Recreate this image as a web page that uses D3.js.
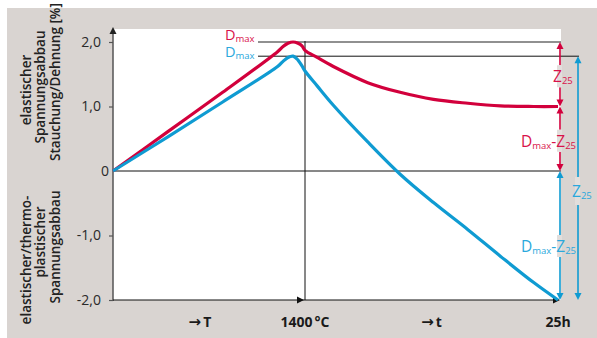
<!DOCTYPE html>
<html>
<head>
<meta charset="utf-8">
<script src="https://cdn.jsdelivr.net/npm/d3@7"></script>
<style>
	body { margin: 0; background: #fff; }
	svg { display: block; font-family: 'Open Sans', 'Noto Sans', sans-serif; }
</style>
</head>
<body>
<div id="content"></div>
<script>
// heating phase (temperature, °C) and hold phase (time, h)
const heatT = [0, 400, 800, 1200, 1240, 1276, 1313, 1349, 1378, 1400]
const redHeat = [0, 0.61, 1.22, 1.85, 1.93, 1.98, 2.0, 1.98, 1.94, 1.87]
const blueHeat = [0, 0.53, 1.07, 1.62, 1.70, 1.76, 1.78, 1.72, 1.63, 1.55]

const holdH = [0, 1.2, 2.8, 6.2, 9.4, 12.7, 16.1, 19.3, 22.6, 25]
const redHold = [1.87, 1.76, 1.62, 1.37, 1.22, 1.11, 1.05, 1.01, 1.0, 1.0]
const blueHold = [1.55, 1.32, 1.02, 0.45, -0.05, -0.49, -0.91, -1.32, -1.73, -2.0]

const yTicks = [-2, -1, 0, 1, 2]
const yTickLabels = ['-2,0', '-1,0', '0', '1,0', '2,0']

const xLabels = [
	{ phase: 'heat', at: 634, arrow: true, text: 'T' },
	{ phase: 'heat', at: 1400, arrow: false, text: '1400\u202f°C' },
	{ phase: 'hold', at: 12.5, arrow: true, text: 't' },
	{ phase: 'hold', at: 25, arrow: false, text: '25h' },
]

const titleUpper = ['elastischer', 'Spannungsabbau', 'Stauchung/Dehnung [%]']
const titleLower = ['elastischer/thermo-', 'plastischer', 'Spannungsabbau']

let RED = '#d2003c'
let BLUE = '#0f9bd2'
let RED_TXT = '#d8124a'
let BLUE_TXT = '#2aa8dc'
let PANEL = '#d9d4d1'

let W = 597, H = 338
let plot = { left: 113, right: 561, top: 29, bottom: 300 }

let xHeat = d3.scaleLinear().domain([0, 1400]).range([113, 305])
let xHold = d3.scaleLinear().domain([0, 25]).range([305, 558])
let y = d3.scaleLinear().domain([-2, 2]).range([300, 42])

let svg = d3.select('#content').append('svg')
	.attr('width', W)
	.attr('height', H)

svg.append('rect').attr('x', 7).attr('y', 8).attr('width', W - 7).attr('height', H - 8)
	.attr('fill', PANEL)
svg.append('rect')
	.attr('x', plot.left).attr('y', plot.top)
	.attr('width', plot.right - plot.left).attr('height', plot.bottom - plot.top)
	.attr('fill', '#fff')

function arrowHead(x, yy, dir, color, size = 7) {
	let s = size, h = size * 0.5
	let p
	if (dir === 'up') p = `M${x},${yy} L${x - h},${yy + s} L${x + h},${yy + s} Z`
	else if (dir === 'down') p = `M${x},${yy} L${x - h},${yy - s} L${x + h},${yy - s} Z`
	else p = `M${x},${yy} L${x - s},${yy - h} L${x - s},${yy + h} Z`
	svg.append('path').attr('d', p).attr('fill', color)
}

function series(heatVals, holdVals) {
	let pts = heatT.map((t, i) => ({ px: xHeat(t), v: heatVals[i] }))
	holdH.forEach((t, i) => { if (i > 0) pts.push({ px: xHold(t), v: holdVals[i] }) })
	return pts
}

let redPts = series(redHeat, redHold)
let bluePts = series(blueHeat, blueHold)
let redPeak = d3.max(redPts, (d) => d.v)
let bluePeak = d3.max(bluePts, (d) => d.v)
let redEnd = redHold[redHold.length - 1]
let blueEnd = blueHold[blueHold.length - 1]

// reference lines
svg.append('line')
	.attr('x1', 258).attr('x2', 561)
	.attr('y1', y(redPeak)).attr('y2', y(redPeak))
	.attr('stroke', '#6b6b6b').attr('stroke-width', 1.6)
svg.append('line')
	.attr('x1', 258).attr('x2', 579)
	.attr('y1', y(bluePeak)).attr('y2', y(bluePeak))
	.attr('stroke', '#111').attr('stroke-width', 1)
svg.append('line')
	.attr('x1', plot.left).attr('x2', 561)
	.attr('y1', y(0)).attr('y2', y(0))
	.attr('stroke', '#111').attr('stroke-width', 1)
svg.append('line')
	.attr('x1', xHeat(1400)).attr('x2', xHeat(1400))
	.attr('y1', y(redPeak) - 1).attr('y2', plot.bottom)
	.attr('stroke', '#111').attr('stroke-width', 1)

// y axis
let yAxis = d3.axisLeft(y)
	.tickValues(yTicks)
	.tickSize(4)
	.tickPadding(8)
	.tickFormat((d) => yTickLabels[yTicks.indexOf(d)])

let gy = svg.append('g')
	.attr('transform', `translate(${plot.left},0)`)
	.call(yAxis)
gy.select('.domain').remove()
gy.selectAll('.tick line').attr('stroke', '#555').attr('stroke-width', 1.2)
gy.selectAll('.tick text')
	.attr('font-size', 14)
	.attr('font-family', "'Open Sans', sans-serif")
	.attr('fill', '#2a2a2a')
	.attr('dx', (d) => d === 0 ? 8 : 0)
gy.selectAll('.tick').filter((d) => d === 0).select('line').remove()

svg.append('line')
	.attr('x1', plot.left).attr('x2', plot.left)
	.attr('y1', plot.bottom + 1).attr('y2', plot.top + 4)
	.attr('stroke', '#555').attr('stroke-width', 1.5)
arrowHead(plot.left, plot.top - 2, 'up', '#222', 7)

// x axis
svg.append('line')
	.attr('x1', plot.left).attr('x2', xHold(25))
	.attr('y1', plot.bottom).attr('y2', plot.bottom)
	.attr('stroke', '#111').attr('stroke-width', 1.2)
arrowHead(xHeat(1400) - 1, plot.bottom, 'right', '#111', 7)
arrowHead(xHold(25) + 2, plot.bottom, 'right', '#111', 7)

let xl = svg.append('g').selectAll('text')
	.data(xLabels)
	.join('text')
	.attr('x', (d) => d.phase === 'heat' ? xHeat(d.at) : xHold(d.at))
	.attr('dx', (d) => d.text === '1400\u202f°C' ? 5 : (d.text === '25h' ? -3 : 0))
	.attr('y', 327)
	.attr('text-anchor', 'middle')
	.attr('font-size', 14)
	.attr('font-weight', 700)
	.attr('fill', '#1a1a1a')
xl.filter((d) => d.arrow).append('tspan')
	.attr('font-family', "'DejaVu Sans', sans-serif")
	.attr('font-size', 15)
	.text('\u2192')
xl.append('tspan')
	.attr('dx', (d) => d.arrow ? 2 : 0)
	.text((d) => d.text)

// curves
let line = d3.line()
	.x((d) => d.px)
	.y((d) => y(d.v))
	.curve(d3.curveCatmullRom.alpha(0.5))

svg.append('path').datum(redPts)
	.attr('d', line)
	.attr('fill', 'none')
	.attr('stroke', RED)
	.attr('stroke-width', 3.2)
	.attr('stroke-linejoin', 'round')
svg.append('path').datum(bluePts)
	.attr('d', line)
	.attr('fill', 'none')
	.attr('stroke', BLUE)
	.attr('stroke-width', 3.2)
	.attr('stroke-linejoin', 'round')

// axis titles
function titleBlock(lines, xs, ys) {
	lines.forEach((t, i) => {
		svg.append('text')
			.attr('transform', `translate(${xs[i]},${ys[i]}) rotate(-90)`)
			.attr('text-anchor', 'middle')
			.attr('font-size', 13.5)
			.attr('font-weight', 600)
			.attr('fill', '#222')
			.text(t)
	})
}
titleBlock(titleUpper, [31, 45, 60], [90, 87, 82])
titleBlock(titleLower, [31, 45, 60], [260, 242, 247])

// labels with subscripts
function subLabel(x, base, parts, color, big = 15.5) {
	let t = svg.append('text')
		.attr('x', x).attr('y', base)
		.attr('fill', color)
	let shift = 0
	parts.forEach(([s, sub]) => {
		let dy = sub ? 2 - shift : -shift
		shift = sub ? 2 : 0
		t.append('tspan')
			.attr('dy', dy)
			.attr('font-size', sub ? 9.5 : big)
			.text(s)
	})
	return t
}

subLabel(225, y(redPeak) - 2, [['D', 0], ['max', 1]], RED_TXT, 14.5)
subLabel(225, y(bluePeak) + 0.5, [['D', 0], ['max', 1]], BLUE_TXT, 14.5)

// dimension arrows on the right
function dimArrow(x, y1, y2, color, gap) {
	let top = Math.min(y1, y2), bot = Math.max(y1, y2)
	let segs = gap ? [[top + 6, gap[0]], [gap[1], bot - 6]] : [[top + 6, bot - 6]]
	segs.forEach(([a, b]) => {
		svg.append('line')
			.attr('x1', x).attr('x2', x).attr('y1', a).attr('y2', b)
			.attr('stroke', color).attr('stroke-width', 1.6)
	})
	if (gap) {
		svg.append('rect')
			.attr('x', x - 3).attr('y', gap[0]).attr('width', 5).attr('height', gap[1] - gap[0])
			.attr('fill', '#e2dedc')
	}
	arrowHead(x, top, 'up', color, 7)
	arrowHead(x, bot, 'down', color, 7)
}

let ax1 = 560, ax2 = 578

let b = y((redPeak + redEnd) / 2) + 8
dimArrow(ax1, y(redPeak), y(redEnd), RED, [b - 17, b + 5])
subLabel(553, b, [['Z', 0], ['25', 1]], RED_TXT)

b = y(redEnd / 2) + 8
dimArrow(ax1, y(redEnd), y(0), RED, [b - 17, b + 5])
subLabel(521, b, [['D', 0], ['max', 1], ['-Z', 0], ['25', 1]], RED_TXT)

b = 252
dimArrow(ax1, y(0), y(blueEnd), BLUE, [b - 17, b + 5])
subLabel(521, b, [['D', 0], ['max', 1], ['-Z', 0], ['25', 1]], BLUE_TXT)

b = 197
dimArrow(ax2, y(bluePeak), y(blueEnd), BLUE, [b - 20, b + 8])
subLabel(572, b, [['Z', 0], ['25', 1]], BLUE_TXT)
</script>
</body>
</html>
